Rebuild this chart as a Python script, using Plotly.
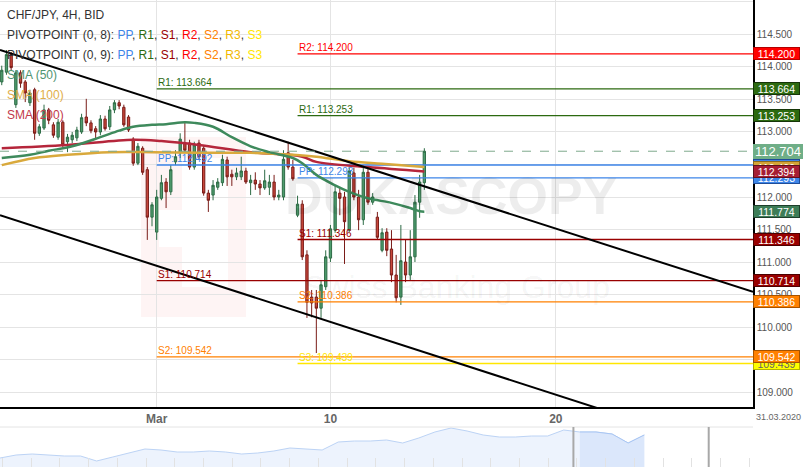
import pandas as pd
import plotly.graph_objects as go

# CHF/JPY 4H candles; the FX week runs Sun 20:00 -> Fri 20:00
slots = pd.date_range("2020-02-21 08:00", "2020-03-13 08:00", freq="4h")
times = [t for t in slots
         if not ((t.weekday() == 4 and t.hour >= 20) or t.weekday() == 5 or (t.weekday() == 6 and t.hour < 20))]
weekend_starts = ["2020-02-21 20:00", "2020-02-28 20:00", "2020-03-06 20:00",
                  "2020-03-13 20:00", "2020-03-20 20:00", "2020-03-27 20:00"]

opens = [113.77, 113.92, 114.19, 113.42, 113.91, 113.77, 113.45, 113.65, 112.98, 113.06,
         113.34, 113.11, 112.92, 113.15, 112.85, 112.88, 112.91, 113.00, 113.23, 113.14,
         113.05, 113.00, 113.20, 113.08, 113.34, 113.45, 113.38, 113.23, 112.89, 112.52,
         112.75, 112.42, 111.69, 111.46, 111.98, 112.23, 112.08, 112.54, 112.68, 112.83,
         112.83, 112.46, 112.83, 112.75, 112.06, 112.03, 112.15, 112.22, 112.57, 112.35,
         112.31, 112.31, 112.40, 112.22, 112.26, 112.20, 112.14, 112.15, 112.23, 112.00,
         112.00, 112.68, 112.46, 111.72, 111.89, 111.11, 110.46, 110.46, 110.29, 110.62,
         111.06, 111.49, 112.06, 112.00, 111.49, 112.37, 112.00, 111.65, 112.38, 111.92,
         111.69, 111.18, 111.46, 111.20, 110.80, 110.46, 111.00, 110.80, 111.08, 111.92,
         112.22]
highs = [114.02, 114.26, 114.23, 113.95, 113.95, 113.80, 113.65, 113.68, 113.12, 113.42,
         113.37, 113.15, 113.20, 113.18, 112.97, 113.00, 113.08, 113.28, 113.51, 113.18,
         113.09, 113.26, 113.25, 113.40, 113.49, 113.49, 113.42, 113.26, 112.92, 112.83,
         112.78, 112.46, 111.92, 112.11, 112.34, 112.29, 112.49, 112.72, 112.98, 113.15,
         112.88, 112.85, 112.88, 112.80, 112.11, 112.26, 112.29, 112.65, 112.62, 112.42,
         112.45, 112.62, 112.45, 112.34, 112.38, 112.26, 112.42, 112.34, 112.34, 112.11,
         112.72, 112.85, 112.57, 112.02, 111.95, 111.18, 110.57, 110.57, 110.72, 111.18,
         111.57, 112.18, 112.14, 112.08, 112.46, 112.45, 112.11, 112.45, 112.46, 112.06,
         111.77, 111.52, 111.52, 111.49, 111.11, 111.57, 111.34, 111.49, 112.03, 112.34,
         112.75]
lows = [113.72, 113.88, 113.94, 113.37, 113.68, 113.46, 113.40, 112.88, 112.94, 113.03,
        113.12, 112.91, 112.88, 112.77, 112.69, 112.83, 112.86, 112.97, 113.09, 112.98,
        112.88, 112.95, 113.02, 113.03, 113.29, 113.35, 113.08, 113.00, 112.48, 112.49,
        112.34, 111.34, 111.55, 111.34, 111.95, 111.83, 112.03, 112.49, 112.60, 112.69,
        112.42, 112.42, 112.57, 112.02, 111.77, 111.95, 112.11, 112.17, 112.17, 112.17,
        112.26, 112.26, 112.20, 112.03, 112.11, 112.03, 112.11, 112.03, 111.95, 111.95,
        111.95, 112.42, 112.25, 111.69, 111.03, 110.14, 110.15, 109.60, 110.14, 110.57,
        111.00, 111.45, 111.72, 110.97, 111.46, 111.95, 111.49, 111.57, 111.88, 111.88,
        111.34, 111.15, 111.09, 110.69, 110.38, 110.34, 110.69, 110.72, 111.00, 111.68,
        112.11]
closes = [113.95, 114.19, 113.99, 113.91, 113.75, 113.60, 113.60, 112.98, 113.08, 113.34,
          113.18, 112.95, 113.15, 112.80, 112.92, 112.95, 113.03, 113.22, 113.14, 113.02,
          113.00, 113.20, 113.05, 113.34, 113.45, 113.40, 113.11, 113.03, 112.52, 112.78,
          112.38, 111.69, 111.88, 112.00, 112.22, 112.08, 112.42, 112.62, 112.89, 112.72,
          112.46, 112.80, 112.62, 112.06, 111.95, 112.18, 112.23, 112.58, 112.31, 112.31,
          112.37, 112.40, 112.23, 112.26, 112.20, 112.14, 112.25, 112.23, 112.00, 112.03,
          112.58, 112.46, 112.28, 111.89, 111.08, 110.38, 110.37, 110.29, 110.65, 111.08,
          111.51, 112.08, 111.98, 111.62, 112.40, 112.00, 111.65, 112.38, 111.92, 112.00,
          111.38, 111.45, 111.18, 110.80, 110.45, 111.02, 110.80, 111.08, 111.92, 112.23,
          112.704]

# moving averages, read at selected candles
sma50_idx = [0, 6, 10, 15, 21, 25, 28, 32, 35, 39, 41, 45, 49, 53, 57, 62, 64, 67, 71, 74, 78, 83, 87, 89, 90]
sma50_val = [112.60, 112.65, 112.71, 112.78, 112.92, 113.02, 113.08, 113.11, 113.12, 113.15, 113.14, 113.08,
             112.92, 112.78, 112.69, 112.60, 112.52, 112.34, 112.18, 112.08, 111.98, 111.91, 111.83, 111.78, 111.774]
sma100_idx = [0, 7, 14, 23, 32, 42, 53, 62, 67, 74, 81, 90]
sma100_val = [112.49, 112.60, 112.65, 112.69, 112.69, 112.68, 112.68, 112.65, 112.62, 112.55, 112.51, 112.46]
sma200_idx = [0, 14, 28, 34, 42, 53, 64, 67, 78, 90]
sma200_val = [112.75, 112.80, 112.88, 112.86, 112.80, 112.69, 112.62, 112.54, 112.46, 112.394]

# weekly pivot points
piv8_start = "2020-03-01 20:00"
piv8_names = ["R1", "PP", "S1", "S2"]
piv8_levels = [113.664, 112.492, 110.714, 109.542]
piv9_start = "2020-03-08 20:00"
piv9_names = ["R2", "R1", "PP", "S1", "S2", "S3"]
piv9_levels = [114.200, 113.253, 112.293, 111.346, 110.386, 109.439]

# descending channel
channel_x = ["2020-02-21 06:30", "2020-03-31 00:00"]
channel_upper = [114.26, 110.54]
channel_lower = [111.72, 107.98]

last_price = 112.704

tick_dates = ["2020-03-01 20:00", "2020-03-10", "2020-03-20"]
tick_text = ["<b>Mar</b>", "<b>10</b>", "<b>20</b>"]
y_ticks = [109.0, 109.5, 110.0, 110.5, 111.0, 111.5, 112.0, 112.5, 113.0, 113.5, 114.0, 114.5, 115.0]

# navigator (overview) series
nav_vals = [109.50, 109.95, 110.10, 109.95, 109.80, 109.80, 109.05, 109.65, 110.25, 110.85,
            110.70, 110.40, 110.40, 110.55, 110.40, 110.10, 110.25, 110.55, 111.00, 110.85,
            110.70, 111.90, 112.05, 112.05, 112.20, 111.75, 112.50, 113.40, 114.00, 113.55,
            112.95, 112.65, 112.65, 112.80, 112.80, 113.70, 113.40, 113.40, 113.10, 111.75,
            112.95]
nav_sel_from = 36

piv_colors = {"PP": "#3d85e8", "R1": "#2c6a10", "S1": "#990000", "R2": "#ff0000",
              "S2": "#ff8000", "R3": "#f1b800", "S3": "#ffe600"}
x_start, x_end = channel_x

fig = go.Figure()

# pivot lines + labels
for start, names, levels in [(piv8_start, piv8_names, piv8_levels), (piv9_start, piv9_names, piv9_levels)]:
    for n, lvl in zip(names, levels):
        fig.add_trace(go.Scatter(x=[start, x_end], y=[lvl, lvl], mode="lines",
                                 line=dict(color=piv_colors[n], width=1.3), hoverinfo="skip"))
        fig.add_annotation(x=start, y=lvl, xref="x", yref="y", text=f"{n}: {lvl:.3f}",
                           showarrow=False, xanchor="left", yanchor="bottom", borderpad=0,
                           font=dict(size=10, color=piv_colors[n]))

# SMAs
for idx, vals, col in [(sma200_idx, sma200_val, "#b5263b"), (sma100_idx, sma100_val, "#d9a93c"),
                       (sma50_idx, sma50_val, "#3e8a5c")]:
    fig.add_trace(go.Scatter(x=[times[i] for i in idx], y=vals, mode="lines",
                             line=dict(color=col, width=2.5, shape="spline"), hoverinfo="skip"))

fig.add_trace(go.Candlestick(
    x=times, open=opens, high=highs, low=lows, close=closes, whiskerwidth=0,
    increasing=dict(line=dict(color="#2d6b45", width=1), fillcolor="#4f9d6e"),
    decreasing=dict(line=dict(color="#7a1c18", width=1), fillcolor="#c8473b"),
))

for ys in (channel_upper, channel_lower):
    fig.add_trace(go.Scatter(x=channel_x, y=ys, mode="lines", line=dict(color="#000", width=2),
                             hoverinfo="skip"))

fig.add_trace(go.Scatter(x=[x_start, x_end], y=[last_price, last_price], mode="lines",
                         line=dict(color="#7fa98c", width=1, dash="dash"), hoverinfo="skip"))

# navigator
nav_x = list(range(len(nav_vals)))
fig.add_trace(go.Scatter(x=nav_x, y=nav_vals, mode="lines", fill="tozeroy", xaxis="x2", yaxis="y2",
                         line=dict(color="#bcd3f5", width=1), fillcolor="#edf3fd", hoverinfo="skip"))
fig.add_trace(go.Scatter(x=nav_x[nav_sel_from:], y=nav_vals[nav_sel_from:], mode="lines", fill="tozeroy",
                         xaxis="x2", yaxis="y2", line=dict(color="#a9c6f3", width=1),
                         fillcolor="#dbe7fb", hoverinfo="skip"))

# right-axis value tags (later ones drawn on top)
tags = [
    (piv9_levels[5], "#ffff00", "#b3b300", "#666"),
    (piv8_levels[3], "#ff8000", "#a65300", "#fff"),
    (piv9_levels[4], "#ff8000", "#a65300", "#fff"),
    (piv8_levels[2], "#990000", "#4d0000", "#fff"),
    (piv9_levels[3], "#990000", "#4d0000", "#fff"),
    (sma50_val[-1], "#3d7d57", "#1e3e2b", "#fff"),
    (piv9_levels[1], "#2c6a10", "#153508", "#fff"),
    (piv8_levels[0], "#2c6a10", "#153508", "#fff"),
    (piv9_levels[0], "#ff0000", "#b30000", "#fff"),
    (piv9_levels[2], "#3d85e8", "#1f4d99", "#fff"),
    (piv8_levels[1], "#3d85e8", "#1f4d99", "#fff"),
    (sma100_val[-1], "#d4a537", "#8a6a1f", "#fff"),
    (sma200_val[-1], "#a61e34", "#5c0f1c", "#fff"),
]
for val, bg, bd, fg in tags:
    fig.add_annotation(x=1, xref="paper", y=val, yref="y", text=f"{val:.3f}", showarrow=False,
                       xanchor="left", width=45, height=11, bgcolor=bg, bordercolor=bd,
                       borderwidth=1, borderpad=0, font=dict(size=10.5, color=fg))
fig.add_annotation(x=1, xref="paper", y=last_price, yref="y", text=f"{last_price:.3f}", showarrow=False,
                   xanchor="left", width=50, height=15, bgcolor="#6fae87", borderwidth=0, borderpad=0,
                   font=dict(size=13, color="#fff"))

# chart legend text
legend_lines = [
    "CHF/JPY, 4H, BID",
    "PIVOTPOINT (0, 8): " + ", ".join(f"<span style='color:{piv_colors[n]}'>{n}</span>"
                                      for n in ["PP", "R1", "S1", "R2", "S2", "R3", "S3"]),
    "PIVOTPOINT (0, 9): " + ", ".join(f"<span style='color:{piv_colors[n]}'>{n}</span>"
                                      for n in ["PP", "R1", "S1", "R2", "S2", "R3", "S3"]),
    "<span style='color:#4f9470'>SMA (50)</span>",
    "<span style='color:#dfae4a'>SMA (100)</span>",
    "<span style='color:#c23a4b'>SMA (200)</span>",
]
for i, txt in enumerate(legend_lines):
    fig.add_annotation(x=5 / 753, y=1 - (15 + 20 * i) / 467, xref="paper", yref="paper", text=txt,
                       showarrow=False, xanchor="left", yanchor="middle",
                       font=dict(size=12, color="#333"))

# watermark
fig.add_annotation(x=451 / 753, y=1 - 196 / 467, xref="paper", yref="paper", text="<b>DUKASCOPY</b>",
                   showarrow=False, font=dict(size=52, color="rgba(0,0,0,0.07)"))
fig.add_annotation(x=457 / 753, y=1 - 287 / 467, xref="paper", yref="paper", text="Swiss Banking Group",
                   showarrow=False, font=dict(size=32, color="rgba(0,0,0,0.055)"))
fig.add_annotation(x=1, y=1 - 410 / 467, xref="paper", yref="paper", text="31.03.2020",
                   xanchor="left", yanchor="top", xshift=1,
                   showarrow=False, font=dict(size=9, color="#666"))

shapes = [
    dict(type="rect", xref="paper", yref="paper", x0=141 / 753, x1=246 / 753, y0=1 - 317 / 467,
         y1=1 - 137 / 467, fillcolor="rgba(230,60,60,0.06)", line=dict(width=0), layer="below"),
    dict(type="rect", xref="paper", yref="paper", x0=182 / 753, x1=228 / 753, y0=1 - 287 / 467,
         y1=1 - 158 / 467, fillcolor="white", line=dict(width=0), layer="below"),
    dict(type="rect", xref="paper", yref="paper", x0=159 / 753, x1=228 / 753, y0=1 - 247 / 467,
         y1=1 - 210 / 467, fillcolor="white", line=dict(width=0), layer="below"),
    dict(type="line", xref="paper", yref="paper", x0=0, x1=1, y0=40 / 467, y1=40 / 467,
         line=dict(color="#e4e4e4", width=1)),
    dict(type="line", xref="x2", yref="paper", x0=35.6, x1=35.6, y0=0, y1=40 / 467,
         line=dict(color="#a8a8a8", width=2)),
    dict(type="line", xref="x2", yref="paper", x0=44.0, x1=44.0, y0=0, y1=40 / 467,
         line=dict(color="#a8a8a8", width=2)),
]

fig.update_layout(
    width=803, height=467,
    margin=dict(l=0, r=50, t=0, b=0),
    paper_bgcolor="white", plot_bgcolor="white",
    showlegend=False,
    font=dict(family="Liberation Sans, Arial, sans-serif", color="#555"),
    shapes=shapes,
    xaxis=dict(type="date", domain=[0, 1], anchor="y", range=[x_start, x_end],
               rangebreaks=[dict(values=weekend_starts, dvalue=48 * 3600 * 1000)],
               rangeslider=dict(visible=False),
               tickmode="array", tickvals=tick_dates, ticktext=tick_text,
               showgrid=True, gridcolor="#e4e4e4", ticks="", zeroline=False,
               showline=True, linecolor="#000", linewidth=1.5,
               tickfont=dict(size=12, color="#666")),
    yaxis=dict(domain=[60 / 467, 1], anchor="x", side="right", range=[108.77, 115.03],
               tickmode="array", tickvals=y_ticks, tickformat=".3f", showgrid=True, gridcolor="#e4e4e4",
               showline=True, linecolor="#000", linewidth=1.5, ticks="", zeroline=False,
               automargin=False, tickfont=dict(size=10, color="#555")),
    xaxis2=dict(domain=[0, 1], anchor="y2", range=[0, 46.75], showgrid=False, zeroline=False,
                showticklabels=False, ticks="inside", ticklen=9, tickcolor="#e2e2e2",
                tickmode="linear", tick0=9.07, dtick=1.783),
    yaxis2=dict(domain=[0, 41 / 467], anchor="x2", range=[108.15, 114.3], visible=False),
)

# drop the browser's default 8px body margin so the figure sits at the page origin
fig.write_html("out.html", config={"displayModeBar": False},
               post_script="document.body.style.margin='0';")
